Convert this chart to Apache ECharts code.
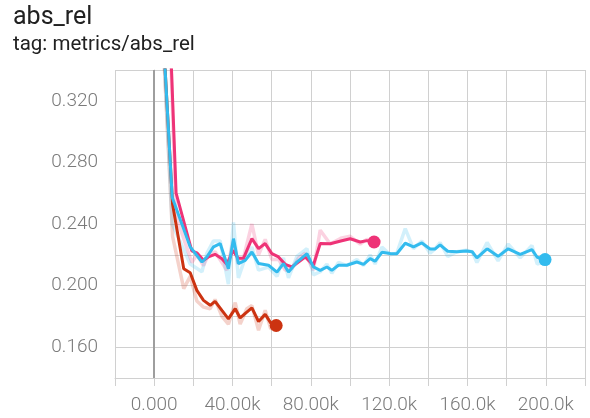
<!DOCTYPE html>
<html>
<head>
<meta charset="utf-8">
<title>abs_rel</title>
<script src="https://cdn.jsdelivr.net/npm/echarts@6/dist/echarts.min.js"></script>
<style>
    html, body { margin: 0; padding: 0; background: #fff; }
    #chart { width: 590px; height: 418px; }
</style>
</head>
<body>
<div id="chart"></div>
<script>
// steps and values (smoothed line + faint raw line)
var redSteps = [3000, 9400, 15100, 18400, 21800, 25200, 28600, 31100, 34600, 37900, 41400, 43900, 47300, 49900, 53300, 56700, 59500, 62300];
var redSmooth = [0.400, 0.2528, 0.2109, 0.2083, 0.1969, 0.1904, 0.1872, 0.1898, 0.1839, 0.1784, 0.1850, 0.1790, 0.1828, 0.1855, 0.1767, 0.1813, 0.1758, 0.1741];
var redRaw = [0.400, 0.232, 0.198, 0.206, 0.190, 0.186, 0.185, 0.191, 0.180, 0.175, 0.189, 0.175, 0.185, 0.187, 0.171, 0.184, 0.172, 0.173];

var pinkSteps = [7100, 11200, 19200, 21800, 25200, 27700, 31100, 34600, 37100, 40300, 42900, 45600, 49900, 53300, 56700, 60100, 63500, 66900, 70300, 73700, 77100, 81300, 84800, 89900, 95800, 100100, 105200, 108600, 112300];
var pinkSmooth = [0.400, 0.2600, 0.2226, 0.2213, 0.2164, 0.2186, 0.2203, 0.2175, 0.2138, 0.2229, 0.2177, 0.2177, 0.2305, 0.2240, 0.2273, 0.2208, 0.2186, 0.2138, 0.2121, 0.2153, 0.2186, 0.2132, 0.2273, 0.2272, 0.2291, 0.2304, 0.2283, 0.2292, 0.2283];
var pinkRaw = [0.400, 0.245, 0.215, 0.220, 0.213, 0.220, 0.222, 0.215, 0.210, 0.229, 0.214, 0.218, 0.240, 0.220, 0.230, 0.217, 0.217, 0.210, 0.211, 0.218, 0.221, 0.210, 0.236, 0.227, 0.231, 0.232, 0.227, 0.230, 0.228];

var blueSteps = [3000, 9200, 18400, 24400, 26900, 30300, 33700, 37900, 40500, 43000, 46500, 49900, 53300, 58400, 62700, 66000, 68600, 72900, 78000, 81300, 84800, 88200, 90700, 94100, 98400, 103500, 106900, 110300, 112800, 116300, 120500, 123900, 128200, 132400, 136700, 140900, 143500, 146000, 149900, 154600, 159300, 162400, 164800, 170000, 175600, 180800, 186900, 192900, 195600, 199600];
var blueSmooth = [0.400, 0.2574, 0.2251, 0.2153, 0.2186, 0.2251, 0.2273, 0.2110, 0.2305, 0.2143, 0.2164, 0.2218, 0.2143, 0.2132, 0.2088, 0.2143, 0.2088, 0.2153, 0.2208, 0.2121, 0.2099, 0.2121, 0.2099, 0.2132, 0.2132, 0.2153, 0.2138, 0.2175, 0.2158, 0.2216, 0.2208, 0.2207, 0.2275, 0.2252, 0.2277, 0.2238, 0.2238, 0.2265, 0.2223, 0.2220, 0.2225, 0.2220, 0.2180, 0.2239, 0.2190, 0.2239, 0.2203, 0.2234, 0.2184, 0.2169];
var blueRaw = [0.400, 0.240, 0.214, 0.209, 0.221, 0.229, 0.229, 0.201, 0.241, 0.205, 0.218, 0.225, 0.210, 0.212, 0.206, 0.218, 0.205, 0.219, 0.224, 0.207, 0.209, 0.214, 0.208, 0.215, 0.213, 0.217, 0.213, 0.220, 0.214, 0.225, 0.220, 0.221, 0.237, 0.224, 0.229, 0.221, 0.224, 0.228, 0.219, 0.222, 0.223, 0.222, 0.215, 0.228, 0.216, 0.227, 0.218, 0.226, 0.214, 0.216];

var xTicks = [0, 40000, 80000, 120000, 160000, 200000];
var yTicks = [0.16, 0.20, 0.24, 0.28, 0.32];

var red = '#cc3311';
var pink = '#ee3377';
var blue = '#33bbee';
var gridColor = '#d0d0d0';

function pairs (steps, vals) {
    return steps.map(function (s, i) { return [s, vals[i]]; });
}

function last (steps, vals) {
    return [[steps[steps.length - 1], vals[vals.length - 1]]];
}

function rawLine (color, steps, vals) {
    return {
        type: 'line',
        data: pairs(steps, vals),
        showSymbol: false,
        symbol: 'none',
        silent: true,
        lineStyle: { color: color, width: 3.5, opacity: 0.22 },
        z: 2
    };
}

function smoothLine (color, steps, vals, z) {
    return {
        type: 'line',
        data: pairs(steps, vals),
        showSymbol: false,
        symbol: 'none',
        lineStyle: { color: color, width: 3 },
        z: z
    };
}

function endDot (color, steps, vals, z) {
    return {
        type: 'scatter',
        data: last(steps, vals),
        symbolSize: 13,
        itemStyle: { color: color, opacity: 1 },
        z: z
    };
}

var myChart = echarts.init(document.getElementById('chart'));
var option = {
    animation: false,
    title: {
        text: 'abs_rel',
        subtext: 'tag: metrics/abs_rel',
        left: 8,
        top: 0,
        itemGap: 4,
        textStyle: { fontFamily: 'Roboto', fontSize: 25, fontWeight: 400, color: '#212121' },
        subtextStyle: { fontFamily: 'Roboto', fontSize: 20.5, color: '#212121' }
    },
    grid: { left: 115, right: 5, top: 70, bottom: 40 },
    xAxis: {
        type: 'value',
        min: -20000,
        max: 220000,
        interval: 20000,
        axisLine: { show: true, lineStyle: { color: gridColor, width: 1 } },
        axisTick: { show: true, length: 8, lineStyle: { color: gridColor } },
        splitLine: { show: true, lineStyle: { color: gridColor, width: 1 } },
        axisLabel: {
            margin: 18,
            fontFamily: 'Roboto',
            fontWeight: 300,
            fontSize: 19,
            color: '#7a7a7a',
            formatter: function (v) {
                if (xTicks.indexOf(v) < 0) return '';
                if (v === 0) return '0.000';
                return (v / 1000).toPrecision(4) + 'k';
            }
        }
    },
    yAxis: {
        type: 'value',
        min: 0.14,
        max: 0.34,
        interval: 0.02,
        axisLine: { show: true, lineStyle: { color: gridColor, width: 1 } },
        axisTick: { show: true, length: 8, lineStyle: { color: gridColor } },
        splitLine: { show: true, lineStyle: { color: gridColor, width: 1 } },
        axisLabel: {
            margin: 17,
            fontFamily: 'Roboto',
            fontWeight: 300,
            fontSize: 19,
            color: '#7a7a7a',
            formatter: function (v) {
                var hit = yTicks.some(function (t) { return Math.abs(t - v) < 1e-6; });
                return hit ? v.toFixed(3) : '';
            }
        }
    },
    series: [
        rawLine(red, redSteps, redRaw),
        rawLine(pink, pinkSteps, pinkRaw),
        rawLine(blue, blueSteps, blueRaw),
        Object.assign(smoothLine(red, redSteps, redSmooth, 3), {
            markLine: {
                silent: true,
                symbol: ['none', 'none'],
                label: { show: false },
                lineStyle: { color: '#9e9e9e', width: 2, type: 'solid' },
                data: [{ xAxis: 0 }]
            }
        }),
        smoothLine(pink, pinkSteps, pinkSmooth, 4),
        smoothLine(blue, blueSteps, blueSmooth, 5),
        endDot(red, redSteps, redSmooth, 6),
        endDot(pink, pinkSteps, pinkSmooth, 6),
        endDot(blue, blueSteps, blueSmooth, 6)
    ]
};

option && myChart.setOption(option);
window.addEventListener('resize', function () {
    myChart.resize();
});
</script>
</body>
</html>
